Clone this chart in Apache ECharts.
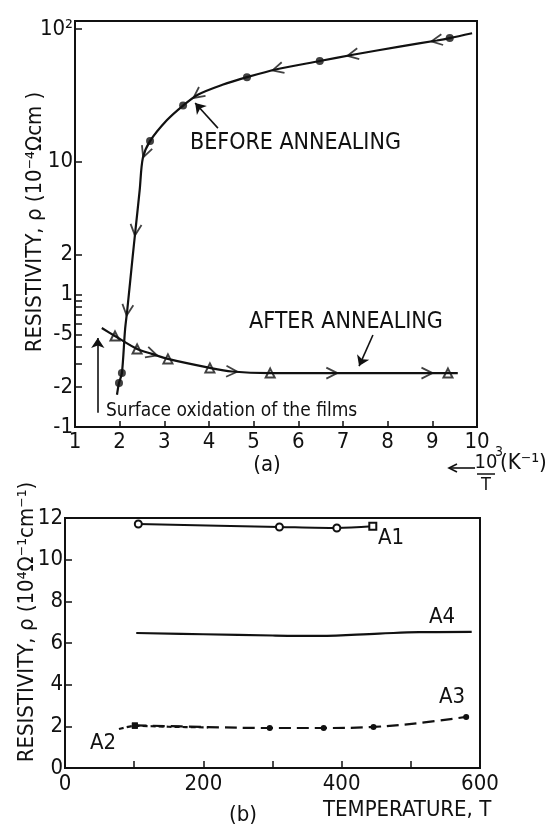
<!DOCTYPE html>
<html><head><meta charset="utf-8">
<script src="https://cdn.jsdelivr.net/npm/echarts@6/dist/echarts.min.js"></script>
<style>html,body{margin:0;padding:0;background:#fff}#c{width:548px;height:828px}</style>
</head><body><div id="c"></div>
<script>
const FONT = "'Liberation Sans Narrow','DejaVu Sans Condensed','Liberation Sans',sans-serif";
const INK = '#111';

// ---------- Panel (a): resistivity vs 10^3/T (log scale) ----------
const aXMin = 1, aXMax = 10;
const aYTickValues = [100, 10, 2, 1, 0.5, 0.2, 0.1];
const aYTickLabels = ['10²', '10', '2', '1', '-5', '-2', '-1'];
const aYMinorTicks = [0.9, 0.8, 0.7, 0.6, 0.4, 0.3];
const aYMinRho = 0.1, aYMaxRho = 115;

const beforeCurveX   = [1.94, 1.985, 2.05, 2.12, 2.17, 2.29, 2.354, 2.448, 2.52, 2.68, 3.06, 3.42, 3.75, 4.30, 4.85, 5.54, 6.48, 7.22, 8.30, 9.10, 9.39, 9.89];
const beforeCurveRho = [0.175, 0.215, 0.255, 0.538, 0.762, 1.91, 3.06, 6.1, 10.7, 14.3, 20.6, 26.5, 32, 38, 43.4, 50, 57.4, 64, 74, 82, 85.5, 93];
const beforeMarkX    = [1.985, 2.05, 2.68, 3.42, 4.85, 6.48, 9.39];
const beforeMarkRho  = [0.215, 0.255, 14.3, 26.5, 43.4, 57.4, 85.5];
const beforeArrowX   = [9.10, 7.22, 5.54, 3.75, 2.57, 2.354, 2.17];
const beforeArrowRho = [82, 64, 50, 32, 11.8, 3.06, 0.762];

const afterCurveX   = [1.60, 1.895, 2.39, 2.72, 3.08, 4.02, 4.51, 5.37, 6.75, 8.00, 9.35, 9.57];
const afterCurveRho = [0.557, 0.485, 0.387, 0.356, 0.326, 0.279, 0.262, 0.255, 0.255, 0.255, 0.255, 0.255];
const afterMarkX    = [1.895, 2.39, 3.08, 4.02, 5.37, 9.35];
const afterMarkRho  = [0.485, 0.387, 0.326, 0.279, 0.255, 0.255];
const afterArrowX   = [2.72, 4.51, 6.75, 8.88];
const afterArrowRho = [0.356, 0.262, 0.255, 0.255];

// annotation pointers [x1, rho1, x2, rho2]
const beforePointer  = [4.20, 17.9, 3.69, 27.7];
const afterPointer   = [7.67, 0.494, 7.36, 0.288];
const surfacePointer = [1.51, 0.128, 1.51, 0.469];

// ---------- Panel (b): resistivity vs temperature ----------
const bXMin = 0, bXMax = 600, bXStep = 100;
const bYMin = 0, bYMax = 12, bYStep = 2;
const a1T = [106, 310, 393, 445];
const a1Rho = [11.71, 11.57, 11.52, 11.6];
const a4T = [103, 200, 300, 367, 454, 512, 588];
const a4Rho = [6.48, 6.42, 6.36, 6.34, 6.45, 6.52, 6.53];
const a2T = [78, 101, 150, 207];
const a2Rho = [1.87, 2.02, 1.98, 1.95];
const a3T = [101, 200, 296, 374, 446, 512, 580];
const a3Rho = [2.05, 1.97, 1.92, 1.92, 1.97, 2.16, 2.45];
const a3Marked = [true, false, true, true, true, false, true];

// ---------- helpers ----------
const L = Math.log10;
const logPairs = (xs, rs) => xs.map((x, i) => [x, L(rs[i])]);
const pairs = (xs, ys) => xs.map((x, i) => [x, ys[i]]);
function interpLog(xs, rs, x) {
  if (x <= xs[0]) return L(rs[0]);
  for (let i = 1; i < xs.length; i++) {
    if (x <= xs[i]) {
      const t = (x - xs[i - 1]) / (xs[i] - xs[i - 1]);
      return L(rs[i - 1]) + t * (L(rs[i]) - L(rs[i - 1]));
    }
  }
  return L(rs[rs.length - 1]);
}
const CHEVRON = 'path://M0,0L10,5L0,10';

const chart = echarts.init(document.getElementById('c'), null, {renderer: 'canvas'});

const axisLineStyle = {show: true, onZero: false, lineStyle: {color: INK, width: 2}};
const labelStyle = {color: INK, fontFamily: FONT, fontSize: 22};

const option = {
  animation: false,
  backgroundColor: '#fff',
  grid: [
    {left: 75, right: 71, top: 21, bottom: 401, show: true, borderColor: INK, borderWidth: 2, outerBoundsMode: 'none'},
    {left: 65, right: 68, top: 518, bottom: 60, show: true, borderColor: INK, borderWidth: 2, outerBoundsMode: 'none'}
  ],
  xAxis: [
    {type: 'value', gridIndex: 0, min: aXMin, max: aXMax, interval: 1,
     axisLine: axisLineStyle, axisTick: {inside: true, length: 6, lineStyle: {color: INK, width: 1.5}},
     axisLabel: Object.assign({margin: 4}, labelStyle), splitLine: {show: false}},
    {type: 'value', gridIndex: 1, min: bXMin, max: bXMax, interval: bXStep,
     axisLine: axisLineStyle, axisTick: {inside: true, length: 7, lineStyle: {color: INK, width: 1.5}},
     axisLabel: Object.assign({margin: 5, formatter: v => (v % 200 === 0 ? String(v) : '')}, labelStyle),
     splitLine: {show: false}}
  ],
  yAxis: [
    {type: 'value', gridIndex: 0, min: L(aYMinRho), max: L(aYMaxRho),
     axisLine: axisLineStyle,
     axisTick: {inside: true, length: 7, lineStyle: {color: INK, width: 1.5},
                customValues: aYTickValues.concat(aYMinorTicks).map(L)},
     axisLabel: Object.assign({margin: 2, customValues: aYTickValues.map(L),
       formatter: v => {
         const i = aYTickValues.findIndex(t => Math.abs(L(t) - v) < 1e-6);
         return i >= 0 ? aYTickLabels[i] : '';
       }}, labelStyle),
     splitLine: {show: false}},
    {type: 'value', gridIndex: 1, min: bYMin, max: bYMax, interval: bYStep,
     axisLine: axisLineStyle, axisTick: {inside: true, length: 7, lineStyle: {color: INK, width: 1.5}},
     axisLabel: Object.assign({margin: 2}, labelStyle), splitLine: {show: false}}
  ],
  series: [
    {name: 'before', type: 'line', xAxisIndex: 0, yAxisIndex: 0, smooth: 0.3,
     showSymbol: false, symbol: 'none', data: logPairs(beforeCurveX, beforeCurveRho),
     lineStyle: {color: INK, width: 2.2},
     markLine: {silent: true, symbol: ['none', 'arrow'], symbolSize: 10, label: {show: false},
       lineStyle: {color: INK, width: 1.6, type: 'solid'},
       data: [beforePointer, afterPointer, surfacePointer].map(p => [
         {coord: [p[0], L(p[1])]}, {coord: [p[2], L(p[3])]}])}},
    {name: 'beforeMarks', type: 'scatter', xAxisIndex: 0, yAxisIndex: 0, symbol: 'circle', symbolSize: 8,
     itemStyle: {color: INK}, data: logPairs(beforeMarkX, beforeMarkRho)},
    {name: 'beforeArrows', type: 'scatter', xAxisIndex: 0, yAxisIndex: 0, symbol: CHEVRON, symbolSize: [11, 11],
     itemStyle: {color: 'rgba(0,0,0,0)', borderColor: INK, borderWidth: 1.8},
     data: logPairs(beforeArrowX, beforeArrowRho)},
    {name: 'after', type: 'line', xAxisIndex: 0, yAxisIndex: 0, smooth: 0.3,
     showSymbol: false, symbol: 'none', data: logPairs(afterCurveX, afterCurveRho),
     lineStyle: {color: INK, width: 2.2}},
    {name: 'afterMarks', type: 'scatter', xAxisIndex: 0, yAxisIndex: 0, symbol: 'emptyTriangle', symbolSize: 9,
     itemStyle: {color: INK, borderColor: INK, borderWidth: 1.4}, data: logPairs(afterMarkX, afterMarkRho)},
    {name: 'afterArrows', type: 'scatter', xAxisIndex: 0, yAxisIndex: 0, symbol: CHEVRON, symbolSize: [11, 11],
     itemStyle: {color: 'rgba(0,0,0,0)', borderColor: INK, borderWidth: 1.8},
     data: logPairs(afterArrowX, afterArrowRho)},

    {name: 'A1', type: 'line', xAxisIndex: 1, yAxisIndex: 1, smooth: 0.3,
     data: a1T.map((t, i) => ({value: [t, a1Rho[i]], symbol: i === a1T.length - 1 ? 'emptyRect' : 'emptyCircle'})),
     symbolSize: 7, lineStyle: {color: INK, width: 2}, itemStyle: {color: INK, borderWidth: 1.6}},
    {name: 'A4', type: 'line', xAxisIndex: 1, yAxisIndex: 1, smooth: 0.4, showSymbol: false, symbol: 'none',
     data: pairs(a4T, a4Rho), lineStyle: {color: INK, width: 2.2}},
    {name: 'A2', type: 'line', xAxisIndex: 1, yAxisIndex: 1, smooth: 0.3,
     data: a2T.map((t, i) => ({value: [t, a2Rho[i]], symbol: i === 1 ? 'rect' : 'none'})),
     symbolSize: 6, lineStyle: {color: INK, width: 2.2, type: [5, 3]}, itemStyle: {color: INK}},
    {name: 'A3', type: 'line', xAxisIndex: 1, yAxisIndex: 1, smooth: 0.4,
     data: a3T.map((t, i) => ({value: [t, a3Rho[i]], symbol: a3Marked[i] ? (i === 0 ? 'rect' : 'circle') : 'none'})),
     symbolSize: 6, lineStyle: {color: INK, width: 2.2, type: [12, 6]}, itemStyle: {color: INK}}
  ],
  graphic: [
    {type: 'text', x: 35, y: 222, rotation: Math.PI / 2,
     style: {text: 'RESISTIVITY, ρ (10⁻⁴Ωcm )', font: '22px ' + FONT, fill: INK, align: 'center', verticalAlign: 'middle'}},
    {type: 'text', x: 190, y: 143,
     style: {text: 'BEFORE ANNEALING', font: '23px ' + FONT, fill: INK, align: 'left', verticalAlign: 'middle'}},
    {type: 'text', x: 249, y: 322,
     style: {text: 'AFTER ANNEALING', font: '23px ' + FONT, fill: INK, align: 'left', verticalAlign: 'middle'}},
    {type: 'text', x: 106, y: 411,
     style: {text: 'Surface oxidation of the films', font: '19px ' + FONT, fill: INK, align: 'left', verticalAlign: 'middle'}},
    {type: 'text', x: 267, y: 465,
     style: {text: '(a)', font: '22px ' + FONT, fill: INK, align: 'center', verticalAlign: 'middle'}},
    {type: 'line', shape: {x1: 449, y1: 468, x2: 475, y2: 468}, style: {stroke: INK, lineWidth: 1.6}},
    {type: 'polyline', shape: {points: [[457, 464], [449, 468], [457, 472]]}, style: {stroke: INK, lineWidth: 1.6, fill: null}},
    {type: 'text', x: 486, y: 463,
     style: {text: '10', font: '20px ' + FONT, fill: INK, align: 'center', verticalAlign: 'middle'}},
    {type: 'text', x: 499, y: 452,
     style: {text: '3', font: '14px ' + FONT, fill: INK, align: 'center', verticalAlign: 'middle'}},
    {type: 'line', shape: {x1: 477, y1: 474, x2: 495, y2: 474}, style: {stroke: INK, lineWidth: 1.5}},
    {type: 'text', x: 486, y: 485,
     style: {text: 'T', font: '18px ' + FONT, fill: INK, align: 'center', verticalAlign: 'middle'}},
    {type: 'text', x: 500, y: 463,
     style: {text: '(K⁻¹)', font: '22px ' + FONT, fill: INK, align: 'left', verticalAlign: 'middle'}},

    {type: 'text', x: 27, y: 622, rotation: Math.PI / 2,
     style: {text: 'RESISTIVITY, ρ (10⁴Ω⁻¹cm⁻¹)', font: '22px ' + FONT, fill: INK, align: 'center', verticalAlign: 'middle'}},
    {type: 'text', x: 378, y: 538,
     style: {text: 'A1', font: '22px ' + FONT, fill: INK, align: 'left', verticalAlign: 'middle'}},
    {type: 'text', x: 442, y: 617,
     style: {text: 'A4', font: '22px ' + FONT, fill: INK, align: 'center', verticalAlign: 'middle'}},
    {type: 'text', x: 452, y: 697,
     style: {text: 'A3', font: '22px ' + FONT, fill: INK, align: 'center', verticalAlign: 'middle'}},
    {type: 'text', x: 103, y: 743,
     style: {text: 'A2', font: '22px ' + FONT, fill: INK, align: 'center', verticalAlign: 'middle'}},
    {type: 'text', x: 243, y: 815,
     style: {text: '(b)', font: '22px ' + FONT, fill: INK, align: 'center', verticalAlign: 'middle'}},
    {type: 'text', x: 323, y: 810,
     style: {text: 'TEMPERATURE, T', font: '22px ' + FONT, fill: INK, align: 'left', verticalAlign: 'middle'}}
  ]
};
chart.setOption(option);

// orient the direction chevrons along their curves
function arrowData(ax, ar, cx, cr, dir) {
  return ax.map((x, i) => {
    const y = L(ar[i]);
    const x2 = x + dir * 0.03;
    const y2 = interpLog(cx, cr, x2);
    const p0 = chart.convertToPixel({gridIndex: 0}, [x, y]);
    const p1 = chart.convertToPixel({gridIndex: 0}, [x2, y2]);
    const ang = Math.atan2(-(p1[1] - p0[1]), p1[0] - p0[0]) * 180 / Math.PI;
    return {value: [x, y], symbolRotate: ang};
  });
}
chart.setOption({
  series: [
    {name: 'beforeArrows', data: arrowData(beforeArrowX, beforeArrowRho, beforeCurveX, beforeCurveRho, -1)},
    {name: 'afterArrows', data: arrowData(afterArrowX, afterArrowRho, afterCurveX, afterCurveRho, 1)}
  ]
});
</script>
</body></html>
